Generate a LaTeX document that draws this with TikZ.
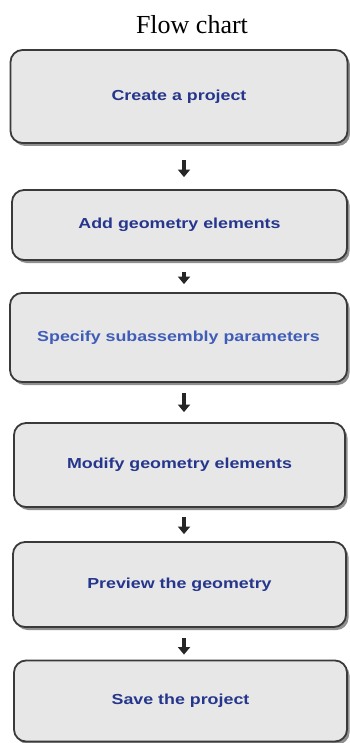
\documentclass[tikz,border=0pt]{standalone}
\usepackage{fontspec}
\setmainfont{Liberation Serif}
\newfontfamily\boxfont[FakeStretch=1.23]{Liberation Sans}
\usetikzlibrary{arrows.meta,shadows}
\definecolor{boxfill}{HTML}{E7E7E7}
\definecolor{boxline}{HTML}{3A3A3A}
\definecolor{txtdark}{HTML}{25368C}
\definecolor{txtlight}{HTML}{3F5DB8}
\tikzset{
  stepbox/.style={draw=boxline, line width=1.8pt, fill=boxfill, rounded corners=12pt,
    drop shadow={shadow xshift=2.5pt, shadow yshift=-3pt, fill=black!55, opacity=0.8},
    font=\boxfont\bfseries\fontsize{14.5}{17}\selectfont, text=txtdark, inner sep=0pt},
  flowarrow/.style={line width=4pt, -{Triangle[width=12pt,length=7.5pt]}, black!85}
}
\begin{document}
\begin{tikzpicture}[x=1pt,y=-1pt]
\useasboundingbox (0,0) rectangle (349,743);
\node[font=\fontsize{26}{30}\selectfont] (title) at (192,25) {Flow chart};
\node[stepbox, minimum width=337pt, minimum height=93pt] (b1) at (179,96.5) {Create a project};
\node[stepbox, minimum width=335pt, minimum height=70pt] (b2) at (179.5,225) {Add geometry elements};
\node[stepbox, minimum width=337pt, minimum height=89pt, text=txtlight] (b3) at (178.5,337.5) {Specify subassembly parameters};
\node[stepbox, minimum width=331pt, minimum height=84pt] (b4) at (179.5,465) {Modify geometry elements};
\node[stepbox, minimum width=333pt, minimum height=85pt] (b5) at (179.5,584.5) {Preview the geometry};
\node[stepbox, minimum width=333pt, minimum height=81pt] (b6) at (180.5,701) {Save the project};
\draw[flowarrow, shorten <=16pt, shorten >=12pt] ([xshift=5pt]b1.south) -- ([xshift=4.5pt]b2.north);
\draw[flowarrow, shorten <=11pt, shorten >=8pt] ([xshift=4.5pt]b2.south) -- ([xshift=5.5pt]b3.north);
\draw[flowarrow, shorten <=10pt, shorten >=10pt] ([xshift=5.5pt]b3.south) -- ([xshift=4.5pt]b4.north);
\draw[flowarrow, shorten <=9pt, shorten >=7pt] ([xshift=4.5pt]b4.south) -- ([xshift=4.5pt]b5.north);
\draw[flowarrow, shorten <=10pt, shorten >=5pt] ([xshift=4.5pt]b5.south) -- ([xshift=3.5pt]b6.north);
\end{tikzpicture}
\end{document}
